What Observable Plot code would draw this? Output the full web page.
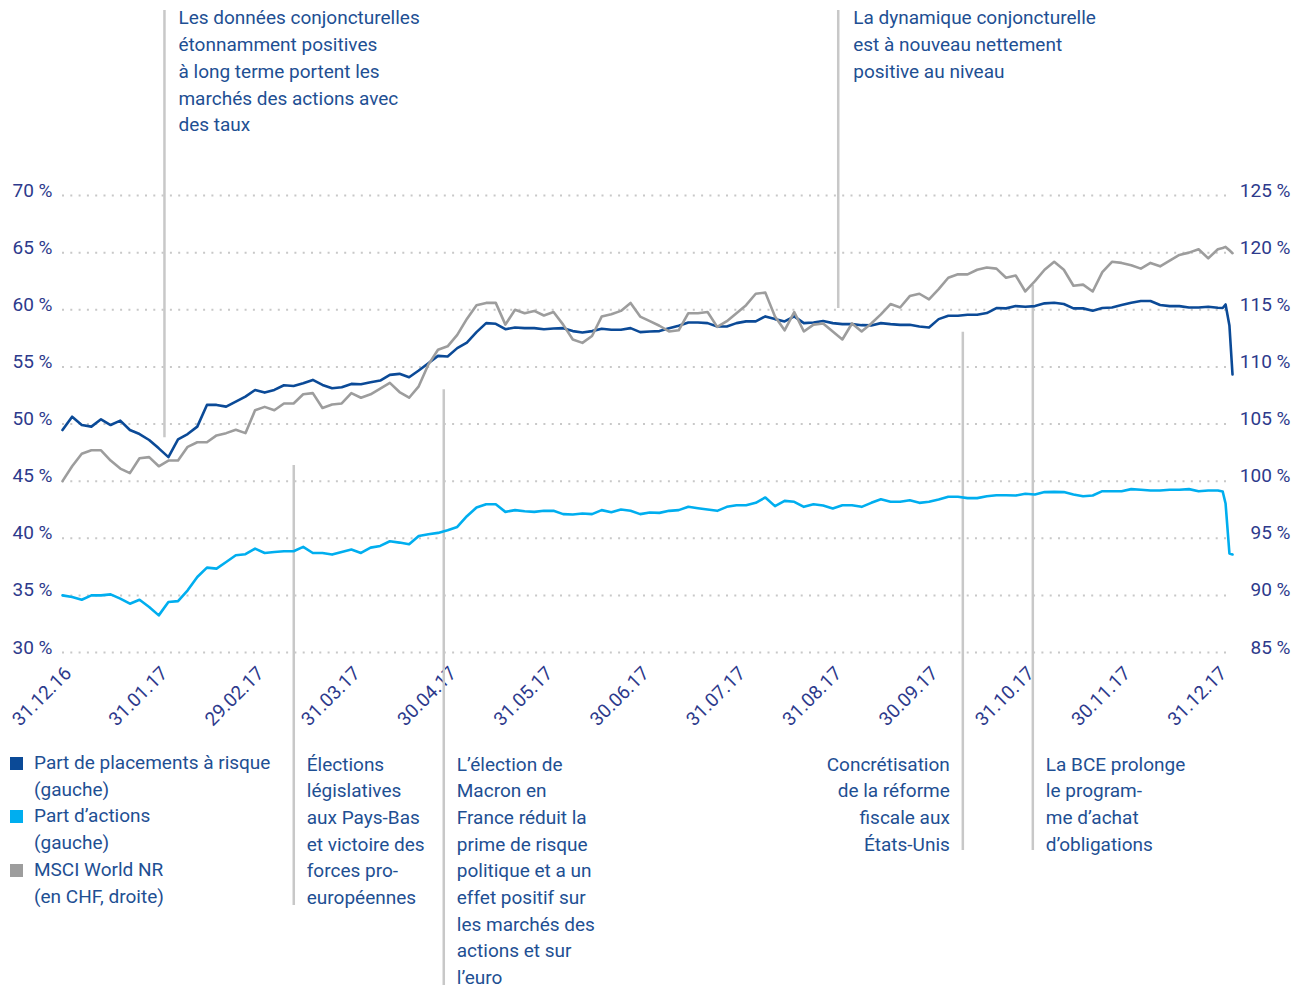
<!DOCTYPE html>
<html><head><meta charset="utf-8">
<script src="https://cdn.jsdelivr.net/npm/d3@7"></script>
<script src="https://cdn.jsdelivr.net/npm/@observablehq/plot@0.6"></script>
<style>
body{margin:0;background:#fff;font-family:Roboto,sans-serif;}
#wrap{position:relative;width:1301px;height:988px;}
#legend{position:absolute;left:10px;top:750px;font-size:19px;line-height:26.7px;color:#1e4f93;}
.item{display:flex;align-items:flex-start;}
.sw{width:13px;height:13px;margin-top:7px;margin-right:11px;flex:none;}
</style></head>
<body><div id="wrap"><div id="chart"></div><div id="legend"></div></div>
<script>
// ---- data (month position = index * 0.1, starting at 31.12.16) ----
const xLabels = ["31.12.16","31.01.17","29.02.17","31.03.17","30.04.17","31.05.17","30.06.17","31.07.17","31.08.17","30.09.17","31.10.17","30.11.17","31.12.17"];
const leftTicks = [30,35,40,45,50,55,60,65,70];
const rightTicks = [85,90,95,100,105,110,115,120,125];

// Part de placements à risque (gauche, %)
const risque = [49.47,50.64,49.91,49.77,50.41,49.91,50.29,49.47,49.12,48.60,
47.87,47.10,48.65,49.12,49.77,51.67,51.67,51.52,51.96,52.40,
52.98,52.75,52.98,53.39,53.33,53.57,53.86,53.42,53.13,53.22,
53.51,53.48,53.65,53.80,54.30,54.39,54.09,54.68,55.32,55.96,
55.91,56.64,57.13,58.04,58.83,58.77,58.30,58.45,58.39,58.39,
58.30,58.36,58.39,58.13,58.01,58.13,58.33,58.25,58.25,58.39,
58.04,58.10,58.13,58.39,58.60,58.89,58.89,58.83,58.54,58.54,
58.83,58.98,58.98,59.42,59.18,58.98,59.42,58.83,58.89,59.01,
58.83,58.74,58.74,58.65,58.63,58.83,58.74,58.68,58.68,58.54,
58.45,59.18,59.47,59.47,59.56,59.56,59.71,60.15,60.12,60.32,
60.26,60.32,60.56,60.61,60.50,60.12,60.12,59.91,60.15,60.20,
60.41,60.61,60.76,60.76,60.41,60.32,60.32,60.20,60.20,60.26,60.18];
// Part d'actions (gauche, %)
const actions = [35.00,34.85,34.62,35.00,35.00,35.09,34.71,34.27,34.62,33.98,
33.25,34.42,34.50,35.44,36.61,37.43,37.34,37.92,38.51,38.60,
39.09,38.71,38.80,38.86,38.86,39.24,38.71,38.71,38.57,38.80,
39.01,38.71,39.18,39.33,39.74,39.62,39.47,40.20,40.35,40.47,
40.70,40.99,41.93,42.69,42.98,42.98,42.31,42.46,42.37,42.31,
42.40,42.40,42.11,42.08,42.16,42.11,42.46,42.28,42.51,42.40,
42.11,42.25,42.22,42.40,42.46,42.75,42.63,42.51,42.40,42.75,
42.89,42.89,43.10,43.57,42.81,43.27,43.19,42.75,42.98,42.87,
42.60,42.89,42.89,42.75,43.10,43.42,43.19,43.19,43.33,43.10,
43.19,43.39,43.63,43.63,43.51,43.51,43.68,43.77,43.77,43.74,
43.89,43.83,44.04,44.06,44.04,43.83,43.68,43.74,44.12,44.12,
44.12,44.30,44.24,44.18,44.18,44.24,44.24,44.30,44.12,44.18,44.18];
// MSCI World NR en CHF (droite, %)
const msci = [100.0,101.3,102.4,102.7,102.7,101.8,101.1,100.7,102.0,102.1,
101.3,101.8,101.8,103.0,103.4,103.4,104.0,104.2,104.5,104.2,
106.2,106.5,106.2,106.8,106.8,107.6,107.7,106.4,106.7,106.8,
107.7,107.3,107.6,108.1,108.6,107.8,107.3,108.3,110.2,111.5,
111.8,112.8,114.2,115.4,115.6,115.6,113.7,115.0,114.7,114.9,
114.5,114.8,113.7,112.4,112.1,112.7,114.4,114.6,114.9,115.6,
114.4,114.0,113.6,113.1,113.2,114.7,114.7,114.8,113.5,114.0,
114.7,115.4,116.4,116.5,114.4,113.2,114.8,113.1,113.7,113.8,
113.1,112.4,113.8,113.1,113.8,114.6,115.5,115.2,116.2,116.4,
115.9,116.8,117.8,118.1,118.1,118.5,118.7,118.6,117.8,118.0,
116.6,117.5,118.5,119.2,118.5,117.1,117.2,116.6,118.3,119.2,
119.1,118.9,118.6,119.1,118.8,119.3,119.8,120.0,120.3,119.5,120.3];
// last days of December (month positions)
const tailMonths = [12.05, 12.08, 12.12, 12.152];
const risqueTail = [60.15, 60.46, 58.62, 54.33];
const actionsTail = [44.09, 43.04, 38.67, 38.58];
const msciTail = [120.4, 120.5, 120.2, 119.95];

// annotations
const annoMonths = [1.059, 8.057, 2.402, 3.960, 9.351, 10.078];
const annoTexts = [
"Les données conjoncturelles\nétonnamment positives\nà long terme portent les\nmarchés des actions avec\ndes taux",
"La dynamique conjoncturelle\nest à nouveau nettement\npositive au niveau",
"Élections\nlégislatives\naux Pays-Bas\net victoire des\nforces pro-\neuropéennes",
"L’élection de\nMacron en\nFrance réduit la\nprime de risque\npolitique et a un\neffet positif sur\nles marchés des\nactions et sur\nl’euro",
"Concrétisation\nde la réforme\nfiscale aux\nÉtats-Unis",
"La BCE prolonge\nle program-\nme d’achat\nd’obligations"];

const legendLabels = ["Part de placements à risque<br>(gauche)","Part d’actions<br>(gauche)","MSCI World NR<br>(en CHF, droite)"];

// ---- layout / style ----
const C = {risque:"#0b4a97", actions:"#00aeef", msci:"#9d9d9d", grid:"#c8c8c8", axis:"#2d3a8c", text:"#1e4f93"};
const FS = 19;
const annoLayout = [
  {from:86.2, to:48.8, textAt:86.63, dx:14, anchor:"start"},
  {from:86.2, to:60.11, textAt:86.63, dx:15, anchor:"start"},
  {from:46.37, to:7.86, textAt:21.33, dx:13, anchor:"start"},
  {from:52.99, to:0.85, textAt:21.33, dx:13, anchor:"start"},
  {from:58.04, to:12.67, textAt:21.33, dx:-13, anchor:"end"},
  {from:62.12, to:12.67, textAt:21.33, dx:13, anchor:"start"}
];
const step = 0.1;
const build = (vals, tail) => vals.map((v,i)=>({t:i*step, v})).concat(tail.map((v,i)=>({t:tailMonths[i], v})));
const sRisque = build(risque, risqueTail);
const sActions = build(actions, actionsTail);
const sMsci = build(msci, msciTail);
const annos = annoMonths.map((t,i)=>({t, text:annoTexts[i], ...annoLayout[i]}));

const chart = Plot.plot({
  width:1301, height:988,
  marginTop:195, marginBottom:336, marginLeft:62, marginRight:74,
  x:{domain:[0,12.1], axis:null},
  y:{domain:[30,70], axis:null},
  style:{fontFamily:"Roboto, sans-serif", fontSize:FS+"px", background:"transparent", overflow:"visible"},
  marks:[
    Plot.ruleY(leftTicks, {y:d=>d, stroke:C.grid, strokeWidth:2, strokeDasharray:"2 6.3"}),
    Plot.text(leftTicks, {y:d=>d, text:d=>`${d} %`, frameAnchor:"left", textAnchor:"end", lineAnchor:"bottom", dx:-10, dy:1, fill:C.axis, fontSize:FS}),
    Plot.text(rightTicks, {y:d=>d-55, text:d=>`${d} %`, frameAnchor:"right", textAnchor:"end", lineAnchor:"bottom", dx:63, dy:1, fill:C.axis, fontSize:FS}),
    Plot.text(xLabels, {x:(d,i)=>i, text:d=>d, frameAnchor:"bottom", rotate:-45, textAnchor:"end", lineAnchor:"bottom", dx:10, dy:22, fill:C.axis, fontSize:FS}),
    Plot.ruleX(annos, {x:"t", y1:"from", y2:"to", stroke:C.grid, strokeWidth:2.5}),
    ...annos.map(a => Plot.text([a], {x:"t", y:"textAt", text:"text", dx:a.dx, textAnchor:a.anchor, lineAnchor:"top", lineHeight:26.7/FS, fontSize:FS, fill:C.text})),
    Plot.lineY(sRisque, {x:"t", y:"v", stroke:C.risque, strokeWidth:2.6}),
    Plot.lineY(sMsci, {x:"t", y:d=>d.v-55, stroke:C.msci, strokeWidth:2.6}),
    Plot.lineY(sActions, {x:"t", y:"v", stroke:C.actions, strokeWidth:2.6})
  ]
});
document.getElementById("chart").appendChild(chart);

const lg = document.getElementById("legend");
[C.risque, C.actions, C.msci].forEach((c,i)=>{
  const it = document.createElement("div");
  it.className = "item";
  it.innerHTML = `<div class="sw" style="background:${c}"></div><div>${legendLabels[i]}</div>`;
  lg.appendChild(it);
});
</script>
</body></html>
